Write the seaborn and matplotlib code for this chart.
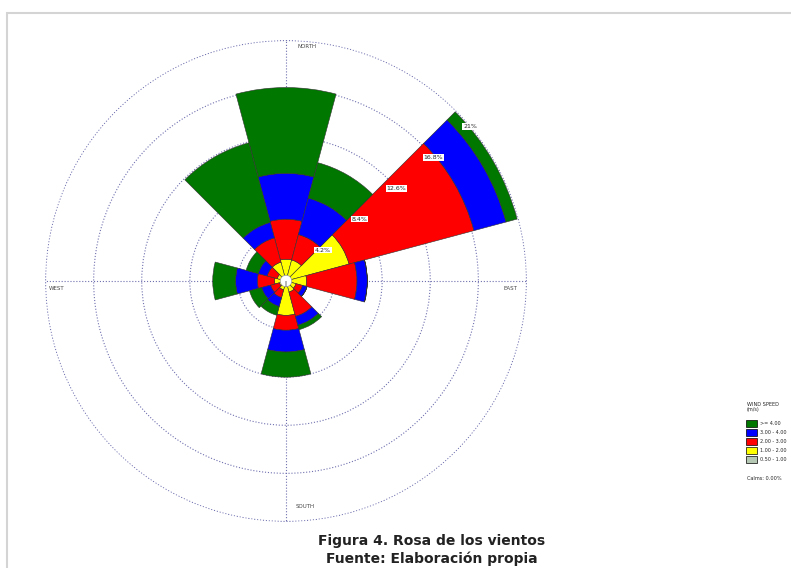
import numpy as np
import pandas as pd
import seaborn as sns
import matplotlib.pyplot as plt
from matplotlib.patches import Patch, Rectangle

# wind directions (sector centres, compass bearing) and frequencies (%) per speed class
directions = ['N', 'NNE', 'ENE', 'E', 'ESE', 'SSE', 'S', 'SSW', 'WSW', 'W', 'WNW', 'NW']
bearings = [0, 30, 60, 90, 120, 150, 180, 210, 240, 270, 300, 330]

speed_labels = ['0.50 - 1.00', '1.00 - 2.00', '2.00 - 3.00', '3.00 - 4.00', '>= 4.00']
freq_050_100 = [0.0, 0.0, 0.0, 0.0, 0.0, 0.0, 0.0, 0.0, 0.0, 0.0, 0.0, 0.0]
freq_100_200 = [1.9, 1.9, 5.7, 1.8, 0.9, 1.0, 3.0, 0.8, 0.6, 1.0, 0.8, 1.7]
freq_200_300 = [3.5, 2.3, 11.3, 4.4, 0.6, 2.2, 1.3, 0.7, 0.8, 1.5, 0.9, 2.2]
freq_300_400 = [4.0, 3.3, 2.9, 0.9, 0.4, 0.8, 1.9, 0.8, 0.8, 1.9, 0.8, 1.4]
freq_400_up = [7.5, 3.2, 1.0, 0.0, 0.0, 0.4, 2.2, 0.8, 1.1, 2.0, 1.1, 7.2]

ring_values = [4.2, 8.4, 12.6, 16.8, 21.0]
ring_labels = ['4.2%', '8.4%', '12.6%', '16.8%', '21%']
calms_text = 'Calms: 0.00%'

colors = ['#b4c8b4', '#ffff00', '#ff0000', '#0000ff', '#007800']

df = pd.DataFrame({
    'direction': directions,
    'bearing': bearings,
    speed_labels[0]: freq_050_100,
    speed_labels[1]: freq_100_200,
    speed_labels[2]: freq_200_300,
    speed_labels[3]: freq_300_400,
    speed_labels[4]: freq_400_up,
})

sns.set_style('white')
plt.rcParams['font.family'] = ['DejaVu Sans']

W, H = 791, 568
fig = plt.figure(figsize=(W / 100, H / 100), dpi=100)

# light frame around the page area
fig.patches.append(Rectangle((7 / W, -0.05), 1.2, 1 - 13 / H + 0.05, transform=fig.transFigure,
                             fill=False, ec='#d4d4d4', lw=1.5))

cx, cy, R = 286, 281, 241
ax = fig.add_axes([(cx - R) / W, (H - cy - R) / H, 2 * R / W, 2 * R / H], projection='polar')
ax.set_theta_zero_location('N')
ax.set_theta_direction(-1)

theta = np.deg2rad(df['bearing'].to_numpy())
width = np.deg2rad(30)
bottom = np.zeros(len(df))
for lab, col in zip(speed_labels, colors):
    vals = df[lab].to_numpy()
    ax.bar(theta, vals, width=width, bottom=bottom, color=col, edgecolor='#303030',
           linewidth=0.4, zorder=2)
    bottom = bottom + vals

# calm circle at centre
ax.bar(0, 0.5, width=2 * np.pi, bottom=0, color='white', edgecolor='#999999', linewidth=0.5, zorder=3)

ax.set_ylim(0, 21.05)
ax.set_rticks(ring_values)
ax.set_yticklabels([])
ax.set_thetagrids([0, 90, 180, 270], labels=['', '', '', ''])
ax.grid(True, linestyle=':', color='#7070b0', linewidth=0.8)
ax.set_axisbelow(True)
ax.spines['polar'].set_visible(False)

for r, txt in zip(ring_values, ring_labels):
    ax.text(np.deg2rad(50), r, txt, fontsize=4.5, ha='center', va='center', zorder=4,
            bbox=dict(fc='white', ec='none', pad=0.6))

def px(x, y):
    return x / W, 1 - y / H

for x, y, s in [(297, 46, 'NORTH'), (49, 288, 'WEST'), (503, 288, 'EAST'), (296, 506, 'SOUTH')]:
    fig.text(*px(x, y), s, fontsize=4, color='#444444', ha='left', va='center')

fig.text(*px(747, 404), 'WIND SPEED', fontsize=3.6, ha='left', va='center')
fig.text(*px(747, 410), '(m/s)', fontsize=3.6, ha='left', va='center')
handles = [Patch(fc=c, ec='black', lw=0.5, label=l) for c, l in zip(colors, speed_labels)][::-1]
fig.legend(handles=handles, loc='upper left', bbox_to_anchor=px(744, 418),
           fontsize=3.5, frameon=False, handlelength=2.3, handleheight=1.8,
           labelspacing=0.45, handletextpad=0.5, borderaxespad=0)
fig.text(*px(747, 478), calms_text, fontsize=3.6, ha='left', va='center')

fig.text(*px(432, 541), 'Figura 4. Rosa de los vientos', fontsize=10, fontweight='bold',
         ha='center', va='center', color='#222222')
fig.text(*px(432, 559), 'Fuente: Elaboración propia', fontsize=10, fontweight='bold',
         ha='center', va='center', color='#222222')

fig.savefig('out.png', dpi=100)
